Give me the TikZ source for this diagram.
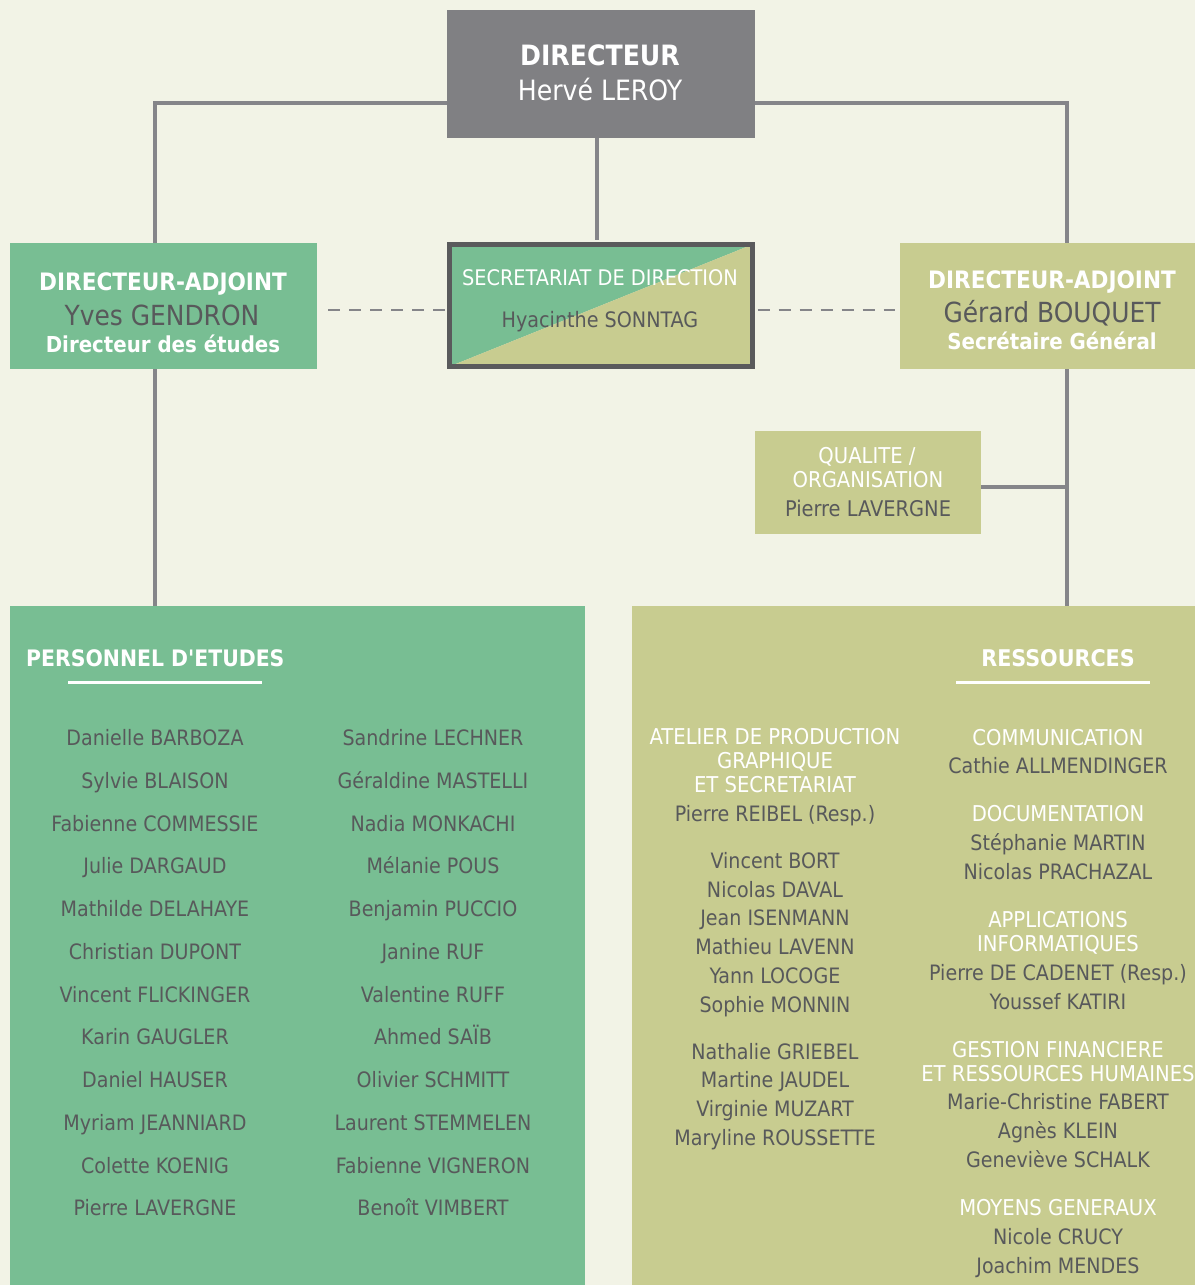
\documentclass[tikz,border=0pt]{standalone}
\usepackage{fontspec}
\setmainfont{DejaVu Sans Condensed}
\definecolor{bg}{HTML}{F2F3E6}
\definecolor{grn}{HTML}{78BE93}
\definecolor{olv}{HTML}{C8CC90}
\definecolor{gbox}{HTML}{808083}
\definecolor{dtxt}{HTML}{58595B}
\definecolor{lne}{HTML}{858589}
\definecolor{brd}{HTML}{5A5A5C}
\begin{document}
\begin{tikzpicture}[x=1pt,y=-1pt,
  box/.style={draw=none,inner sep=0pt,outer sep=0pt,anchor=north west},
  conn/.style={draw=lne,line width=4pt},
  dashline/.style={draw=lne,line width=2.5pt,dash pattern=on 12pt off 9pt},
  nm/.style={text=dtxt,font=\fontsize{21.2}{25}\selectfont,anchor=base,inner sep=0pt},
  hd/.style={text=white,font=\fontsize{21.8}{25}\selectfont,anchor=base,inner sep=0pt},
  bw/.style={text=white,font=\bfseries\fontsize{22}{26}\selectfont,anchor=base,inner sep=0pt},
  big/.style={text=dtxt,font=\fontsize{27.7}{32}\selectfont,anchor=base,inner sep=0pt},
  ]
\fill[bg] (0,0) rectangle (1195,1285);
\useasboundingbox (0,0) rectangle (1195,1285);

% boxes
\node[box,fill=gbox,minimum width=308pt,minimum height=128pt] (dir) at (447,10) {};
\node[box,fill=grn,minimum width=307pt,minimum height=126pt] (da1) at (10,243) {};
\node[box,fill=olv,minimum width=295pt,minimum height=126pt] (da2) at (900,243) {};
\node[box,fill=olv,minimum width=226pt,minimum height=103pt] (qual) at (755,431) {};
\node[box,fill=grn,minimum width=575pt,minimum height=679pt] (pers) at (10,606) {};
\node[box,fill=olv,minimum width=563pt,minimum height=679pt] (res) at (632,606) {};

% secretariat
\fill[grn] (449.5,366.5) -- (449.5,244.5) -- (752.5,244.5) -- cycle;
\fill[olv] (449.5,366.5) -- (752.5,244.5) -- (752.5,366.5) -- cycle;
\node[draw=brd,line width=5pt,inner sep=0pt,minimum width=303pt,minimum height=122pt] (sec) at (601,305.5) {};

% connectors
\draw[conn] ([shift={(0,29)}]dir.west) -| ([shift={(-8.5,0)}]da1.north);
\draw[conn] ([shift={(0,29)}]dir.east) -| ([shift={(19.5,0)}]da2.north);
\draw[conn] ([shift={(-4,0)}]dir.south) -- ([shift={(-4,-2.5)}]sec.north);
\draw[conn] ([shift={(-8.5,0)}]da1.south) -- ([shift={(-8.5,0)}]da1.south |- pers.north);
\coordinate (vr) at ([shift={(19.5,0)}]da2.south);
\draw[conn] (vr) -- (vr |- res.north);
\draw[conn] ([shift={(0,4.5)}]qual.east) -- ([shift={(0,4.5)}]qual.east -| vr);
\draw[dashline] ([shift={(11,4)}]da1.east) -- ([shift={(-2.5,4.5)}]sec.west);
\draw[dashline] ([shift={(2.5,4.5)}]sec.east) -- ([shift={(-5,4)}]da2.west);

% director texts
\node[bw,font=\bfseries\fontsize{28}{32}\selectfont] (tdir1) at (600,65) {DIRECTEUR};
\node[big,text=white,font=\fontsize{28}{32}\selectfont] (tdir2) at (600,100) {Hervé LEROY};

% DA left
\node[bw,font=\bfseries\fontsize{24}{28}\selectfont] (ta11) at (163,290.5) {DIRECTEUR-ADJOINT};
\node[big] (ta12) at (162,325) {Yves GENDRON};
\node[bw] (ta13) at (163,352) {Directeur des études};

% secretariat texts
\node[hd,font=\fontsize{21.5}{25}\selectfont] (ts1) at (600,285.5) {SECRETARIAT DE DIRECTION};
\node[nm,font=\fontsize{21.3}{25}\selectfont] (ts2) at (600,327.5) {Hyacinthe SONNTAG};

% DA right
\node[bw,font=\bfseries\fontsize{24}{28}\selectfont] (ta21) at (1052,288.5) {DIRECTEUR-ADJOINT};
\node[big] (ta22) at (1052,322) {Gérard BOUQUET};
\node[bw] (ta23) at (1052,349) {Secrétaire Général};

% qualite
\node[hd] (tq1) at (867,463) {QUALITE /};
\node[hd] (tq2) at (868,487) {ORGANISATION};
\node[nm,font=\fontsize{21.6}{25}\selectfont] (tq3) at (868,516) {Pierre LAVERGNE};

% section headers
\node[bw,anchor=base west,font=\bfseries\fontsize{22.7}{26}\selectfont] (hpers) at (26,666) {PERSONNEL D\textquotesingle ETUDES};
\draw[white,line width=3pt] (68,682) -- (262,682);
\node[bw,font=\bfseries\fontsize{23}{26}\selectfont] (hres) at (1058,666) {RESSOURCES};
\draw[white,line width=3pt] (956,682) -- (1150,682);

% personnel names
\foreach \n [count=\i from 0] in {Danielle BARBOZA,Sylvie BLAISON,Fabienne COMMESSIE,Julie DARGAUD,Mathilde DELAHAYE,Christian DUPONT,Vincent FLICKINGER,Karin GAUGLER,Daniel HAUSER,Myriam JEANNIARD,Colette KOENIG,Pierre LAVERGNE}
  \node[nm] (pa\i) at (155,{745.5+42.75*\i}) {\n};
\foreach \n [count=\i from 0] in {Sandrine LECHNER,Géraldine MASTELLI,Nadia MONKACHI,Mélanie POUS,Benjamin PUCCIO,Janine RUF,Valentine RUFF,Ahmed SAÏB,Olivier SCHMITT,Laurent STEMMELEN,Fabienne VIGNERON,Benoît VIMBERT}
  \node[nm] (pb\i) at (433,{745.5+42.75*\i}) {\n};

% ressources left
\foreach \y/\s/\t [count=\i] in {737/hd/ATELIER DE PRODUCTION,761/hd/GRAPHIQUE,785/hd/ET SECRETARIAT,814/nm/Pierre REIBEL (Resp.),861/nm/Vincent BORT,890/nm/Nicolas DAVAL,918/nm/Jean ISENMANN,947/nm/Mathieu LAVENN,976/nm/Yann LOCOGE,1005/nm/Sophie MONNIN,1052/nm/Nathalie GRIEBEL,1080/nm/Martine JAUDEL,1109/nm/Virginie MUZART,1138/nm/Maryline ROUSSETTE}
  \node[\s] (ra\i) at (775,{\y+7.8}) {\t};
% ressources right
\foreach \y/\s/\t [count=\i] in {738/hd/COMMUNICATION,766/nm/Cathie ALLMENDINGER,814/hd/DOCUMENTATION,843/nm/Stéphanie MARTIN,872/nm/Nicolas PRACHAZAL,920/hd/APPLICATIONS,944/hd/INFORMATIQUES,973/nm/Pierre DE CADENET (Resp.),1002/nm/Youssef KATIRI,1050/hd/GESTION FINANCIERE,1074/hd/ET RESSOURCES HUMAINES,1102/nm/Marie-Christine FABERT,1131/nm/Agnès KLEIN,1160/nm/Geneviève SCHALK,1208/hd/MOYENS GENERAUX,1237/nm/Nicole CRUCY,1266/nm/Joachim MENDES}
  \node[\s] (rb\i) at (1058,{\y+7.8}) {\t};
\end{tikzpicture}
\end{document}
